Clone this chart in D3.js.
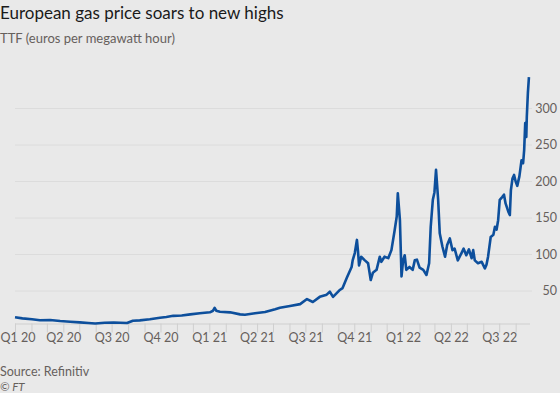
<!DOCTYPE html>
<html>
<head>
<meta charset="utf-8">
<script src="https://cdn.jsdelivr.net/npm/d3@7"></script>
<style>
  html, body { margin: 0; padding: 0; background: #e9e9e9; }
  svg { display: block; font-family: Lato, sans-serif; }
</style>
</head>
<body>
<svg id="chart" width="560" height="393"></svg>
<script>
// ---- Data ----
const dates = [
  "2020-01-01","2020-01-15","2020-02-02","2020-02-17","2020-03-07","2020-03-26","2020-04-14","2020-05-02",
  "2020-05-18","2020-05-31","2020-06-18","2020-07-05","2020-07-17","2020-07-30","2020-08-10","2020-08-23",
  "2020-09-11","2020-09-30","2020-10-12","2020-10-25","2020-11-10","2020-11-26","2020-12-14","2021-01-02",
  "2021-01-08","2021-01-11","2021-01-14","2021-01-21","2021-02-09","2021-02-28","2021-03-09","2021-03-28",
  "2021-04-16","2021-05-05","2021-05-14","2021-06-02","2021-06-21","2021-07-04","2021-07-15","2021-07-28",
  "2021-08-10","2021-08-16","2021-08-22","2021-09-03","2021-09-09","2021-09-17","2021-09-26","2021-09-28",
  "2021-10-02","2021-10-06","2021-10-08","2021-10-10","2021-10-14","2021-10-21","2021-10-27","2021-11-01",
  "2021-11-05","2021-11-12","2021-11-18","2021-11-21","2021-11-27","2021-12-04","2021-12-10","2021-12-16",
  "2021-12-20","2021-12-22","2021-12-26","2021-12-29","2022-01-01","2022-01-04","2022-01-07","2022-01-13",
  "2022-01-19","2022-01-23","2022-01-27","2022-02-01","2022-02-08","2022-02-14","2022-02-19","2022-02-22",
  "2022-02-26","2022-03-01","2022-03-04","2022-03-08","2022-03-11","2022-03-16","2022-03-21","2022-03-25",
  "2022-03-30","2022-04-04","2022-04-08","2022-04-14","2022-04-21","2022-04-25","2022-04-30","2022-05-05",
  "2022-05-10","2022-05-13","2022-05-16","2022-05-22","2022-05-29","2022-06-04","2022-06-07","2022-06-10",
  "2022-06-15","2022-06-20","2022-06-23","2022-06-26","2022-06-29","2022-07-02","2022-07-07","2022-07-10",
  "2022-07-13","2022-07-18","2022-07-21","2022-07-23","2022-07-26","2022-07-29","2022-08-01","2022-08-04",
  "2022-08-08","2022-08-12","2022-08-15","2022-08-17","2022-08-19","2022-08-21","2022-08-22","2022-08-24",
  "2022-08-26"
];
const prices = [
  14, 12.5, 11.3, 9.9, 10.3, 8.9, 8, 7,
  6.2, 5.6, 6.6, 6.8, 6.6, 6.2, 9.3, 9.8,
  11.3, 13.4, 14.5, 16, 16.5, 18, 19.5, 20.8,
  23, 27, 23, 21.7, 20.8, 18, 17.5, 19.5,
  21.3, 25, 27, 29.5, 32, 39, 35, 42,
  45, 49, 42, 51, 54, 68, 83, 92,
  102, 120, 105, 85, 97, 92, 88, 65,
  75, 79, 97, 90, 97, 95, 106, 133,
  152, 184, 147, 70, 92, 99, 79, 83,
  79, 92, 93, 82, 79, 72, 88, 138,
  175, 185, 216, 175, 129, 111, 97, 113,
  122, 106, 108, 92, 102, 108, 99, 107,
  95, 106, 92, 88, 90, 81, 86, 97,
  124, 127, 138, 134, 147, 175, 179, 182,
  170, 159, 154, 188, 204, 209, 200, 194,
  207, 229, 225, 243, 280, 261, 289, 321,
  343
];
const yTicks = [50, 100, 150, 200, 250, 300];
const title = "European gas price soars to new highs";
const subtitle = "TTF (euros per megawatt hour)";
const source = "Source: Refinitiv";
const credit = "\u00A9 FT";

// ---- Layout ----
const svg = d3.select("#chart");
const parse = d3.utcParse("%Y-%m-%d");
const data = dates.map((d, i) => ({ date: parse(d), value: prices[i] }));

const x = d3.scaleUtc()
  .domain([parse("2020-01-01"), parse("2022-08-28")])
  .range([15, 530]);
const y = d3.scaleLinear().domain([5.5, 350]).range([323.5, 72]);

const textCol = "#66605c";
const font = "Lato, sans-serif";

svg.append("rect").attr("width", 560).attr("height", 393).attr("fill", "#e9e9e9");

// gridlines
svg.append("g").selectAll("line").data(yTicks).join("line")
  .attr("x1", 15).attr("x2", 532)
  .attr("y1", d => y(d)).attr("y2", d => y(d))
  .attr("stroke", "#dcdcdc").attr("stroke-width", 1);

// y labels on right
svg.append("g").selectAll("text").data(yTicks).join("text")
  .attr("x", 557).attr("y", d => y(d)).attr("dy", "0.35em")
  .attr("text-anchor", "end")
  .attr("fill", textCol).attr("font-size", 12.5)
  .text(d => d);

// x axis
const xAxis = d3.axisBottom(x)
  .ticks(d3.utcMonth.every(1))
  .tickSize(9)
  .tickFormat(d => d.getUTCMonth() % 3 === 0 ? `Q${d.getUTCMonth() / 3 + 1} ${String(d.getUTCFullYear()).slice(2)}` : "");
const gx = svg.append("g").attr("transform", `translate(0,${y.range()[0]})`).call(xAxis);
gx.select(".domain").attr("stroke", "#cfcfcf").attr("d", `M${x.range()[0]},0.5H${x.range()[1]}`);
gx.selectAll(".tick line").attr("stroke", "#cfcfcf");
gx.selectAll(".tick text").attr("fill", textCol).attr("font-size", 12.5)
  .attr("font-family", font).attr("dy", "0.5em");
// keep the first label inside the picture
gx.selectAll(".tick text").filter((d, i) => i === 0).attr("text-anchor", "start").attr("x", -15);

// line
const line = d3.line().x(d => x(d.date)).y(d => y(d.value));
svg.append("path").datum(data)
  .attr("d", line)
  .attr("fill", "none")
  .attr("stroke", "#0d4f9c")
  .attr("stroke-width", 2.6)
  .attr("stroke-linejoin", "round");

// texts
svg.append("text").attr("x", 0).attr("y", 19).attr("font-size", 17).attr("fill", "#1a1a1a").text(title);
svg.append("text").attr("x", 0).attr("y", 43).attr("font-size", 13).attr("fill", textCol).text(subtitle);
svg.append("text").attr("x", 0).attr("y", 376).attr("font-size", 12.5).attr("fill", textCol).text(source);
svg.append("text").attr("x", 0).attr("y", 390.5).attr("font-size", 11.5).attr("font-style", "italic").attr("fill", textCol).text(credit);
</script>
</body>
</html>
